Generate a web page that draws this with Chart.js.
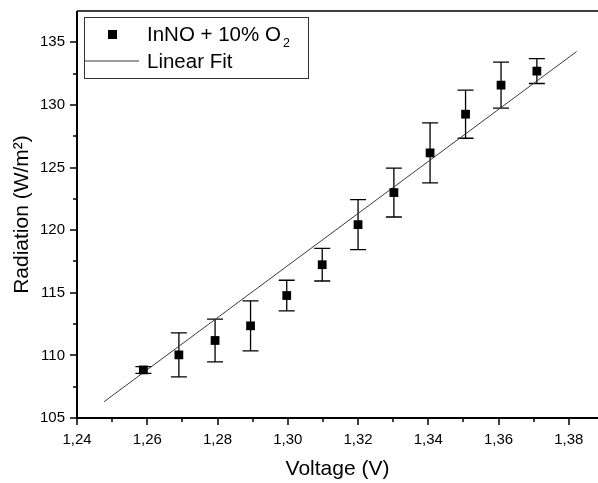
<!DOCTYPE html>
<html><head><meta charset="utf-8">
<script src="https://cdn.jsdelivr.net/npm/chart.js@4.4.0/dist/chart.umd.min.js"></script>
<style>html,body{margin:0;padding:0;background:#fff;overflow:hidden}#wrap{width:598px;height:483px;position:relative}</style>
</head><body><div id="wrap"><canvas id="c" width="598" height="483"></canvas></div>
<script>
// ---- data ----
const voltage   = [1.2589, 1.2690, 1.2793, 1.2894, 1.2997, 1.3098, 1.3200, 1.3302, 1.3405, 1.3506, 1.3607, 1.3709];
const radiation = [108.84, 110.04, 111.19, 112.36, 114.78, 117.24, 120.44, 123.00, 126.17, 129.26, 131.58, 132.70];
const radError  = [0.27, 1.76, 1.71, 2.00, 1.22, 1.30, 2.00, 1.95, 2.40, 1.92, 1.84, 0.99];
const fitVoltage   = [1.2477, 1.3822];
const fitRadiation = [106.30, 134.26];
const xTickValues = [1.24, 1.26, 1.28, 1.30, 1.32, 1.34, 1.36, 1.38];
const xMinorTicks = [1.25, 1.27, 1.29, 1.31, 1.33, 1.35, 1.37];
const yTickValues = [105, 110, 115, 120, 125, 130, 135];
const yMinorTicks = [107.5, 112.5, 117.5, 122.5, 127.5, 132.5];
const seriesLabel = 'InNO + 10% O';
const fitLabel = 'Linear Fit';

const FONT = '"Liberation Sans", Arial, Helvetica, sans-serif';

const decor = {
  id: 'decor',
  beforeDatasetsDraw(chart) {
    const ctx = chart.ctx, xs = chart.scales.x, ys = chart.scales.y;
    ctx.save();
    ctx.strokeStyle = '#000';
    ctx.lineWidth = 1.3;
    voltage.forEach((v, i) => {
      const px = xs.getPixelForValue(v);
      const top = ys.getPixelForValue(radiation[i] + radError[i]);
      const bot = ys.getPixelForValue(radiation[i] - radError[i]);
      ctx.beginPath();
      ctx.moveTo(px, top); ctx.lineTo(px, bot);
      ctx.moveTo(px - 8, top); ctx.lineTo(px + 8, top);
      ctx.moveTo(px - 8, bot); ctx.lineTo(px + 8, bot);
      ctx.stroke();
    });
    ctx.restore();
  },
  afterDraw(chart) {
    const ctx = chart.ctx, xs = chart.scales.x, ys = chart.scales.y, a = chart.chartArea;
    ctx.save();
    ctx.strokeStyle = '#000';
    ctx.lineWidth = 2;
    ctx.beginPath();
    ctx.moveTo(a.left, a.top); ctx.lineTo(a.left, a.bottom); ctx.lineTo(chart.width, a.bottom);
    ctx.stroke();
    ctx.lineWidth = 1.5;
    ctx.beginPath();
    ctx.moveTo(a.left, a.top); ctx.lineTo(chart.width, a.top);
    ctx.stroke();
    ctx.lineWidth = 1.5;
    ctx.beginPath();
    xTickValues.forEach(v => { const p = Math.round(xs.getPixelForValue(v)); ctx.moveTo(p, a.bottom); ctx.lineTo(p, a.bottom + 7); });
    xMinorTicks.forEach(v => { const p = Math.round(xs.getPixelForValue(v)); ctx.moveTo(p, a.bottom); ctx.lineTo(p, a.bottom + 4); });
    yTickValues.forEach(v => { const p = Math.round(ys.getPixelForValue(v)); ctx.moveTo(a.left, p); ctx.lineTo(a.left - 7, p); });
    yMinorTicks.forEach(v => { const p = Math.round(ys.getPixelForValue(v)); ctx.moveTo(a.left, p); ctx.lineTo(a.left - 4, p); });
    ctx.stroke();

    // legend
    ctx.fillStyle = '#fff';
    ctx.fillRect(84, 17, 225, 61);
    ctx.strokeStyle = '#333';
    ctx.lineWidth = 1;
    ctx.strokeRect(84.5, 17.5, 224, 61);
    ctx.fillStyle = '#000';
    ctx.fillRect(108, 30, 9, 9);
    ctx.strokeStyle = '#3a3a3a';
    ctx.beginPath(); ctx.moveTo(85, 61); ctx.lineTo(139, 61); ctx.stroke();
    ctx.font = '20.5px ' + FONT;
    ctx.textBaseline = 'middle';
    ctx.textAlign = 'left';
    ctx.fillText(seriesLabel, 147, 35);
    const w = ctx.measureText(seriesLabel).width;
    ctx.font = '12.5px ' + FONT;
    ctx.fillText('2', 147 + w + 2, 44);
    ctx.font = '20.5px ' + FONT;
    ctx.fillText(fitLabel, 147, 62);
    ctx.restore();
  }
};

new Chart(document.getElementById('c'), {
  type: 'scatter',
  data: {
    datasets: [
      {
        type: 'scatter',
        label: seriesLabel + '₂',
        data: voltage.map((v, i) => ({ x: v, y: radiation[i] })),
        pointStyle: 'rect',
        pointRadius: 6.2,
        pointBackgroundColor: '#000',
        pointBorderWidth: 0,
        order: 1
      },
      {
        type: 'line',
        label: fitLabel,
        data: fitVoltage.map((v, i) => ({ x: v, y: fitRadiation[i] })),
        borderColor: '#3a3a3a',
        borderWidth: 1,
        pointRadius: 0,
        fill: false,
        order: 2
      }
    ]
  },
  options: {
    responsive: false,
    animation: false,
    devicePixelRatio: 1,
    layout: { autoPadding: false, padding: { top: 11, right: 0, left: 0, bottom: 0 } },
    plugins: { legend: { display: false }, tooltip: { enabled: false } },
    scales: {
      x: {
        type: 'linear', min: 1.24, max: 1.3883,
        afterBuildTicks: s => { s.ticks = xTickValues.map(v => ({ value: v })); },
        afterFit: s => { s.height = 65; s.paddingLeft = 0; s.paddingRight = 0; },
        grid: { display: false, drawTicks: false },
        border: { display: false },
        ticks: {
          callback: v => Number(v).toFixed(2).replace('.', ','),
          font: { family: FONT, size: 15 }, color: '#000', padding: 13,
          maxRotation: 0, autoSkip: false
        },
        title: { display: true, text: 'Voltage (V)', color: '#000', font: { family: FONT, size: 21 }, padding: { top: 0, bottom: 1 } }
      },
      y: {
        type: 'linear', min: 105, max: 137.5,
        afterBuildTicks: s => { s.ticks = yTickValues.map(v => ({ value: v })); },
        afterFit: s => { s.width = 77; s.paddingTop = 0; s.paddingBottom = 0; },
        grid: { display: false, drawTicks: false },
        border: { display: false },
        ticks: {
          callback: v => String(v),
          font: { family: FONT, size: 15 }, color: '#000', padding: 12
        },
        title: { display: true, text: 'Radiation (W/m²)', color: '#000', font: { family: FONT, size: 21 }, padding: { top: 10, bottom: 0 } }
      }
    }
  },
  plugins: [decor]
});
</script>
</body></html>
